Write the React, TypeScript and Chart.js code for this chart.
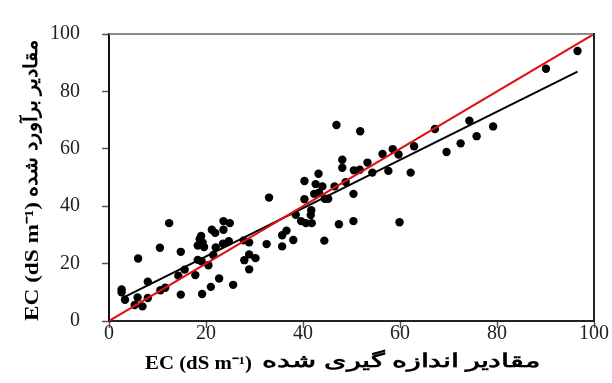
import React, { useEffect, useRef } from "react";
import { Chart, registerables } from "chart.js";

Chart.register(...registerables);

// Measured EC (x) and estimated EC (y), dS m-1
const measured = [
  2.6, 2.6, 3.3, 5.9, 5.3, 6.9, 8.0, 8.0, 6.0, 10.5, 12.4, 10.6, 11.6, 14.8, 14.8, 14.3,
  15.6, 17.8, 18.3, 19.2, 19.0, 18.7, 19.3, 18.3, 19.6, 21.2, 21.9, 22.0, 21.5, 19.1,
  20.5, 21.0, 22.7, 23.6, 24.9, 23.6, 23.5, 24.7, 25.6, 27.8, 28.9, 28.9, 27.9, 30.2,
  28.9, 32.5, 33.0, 35.7, 35.7, 36.6, 38.0, 38.5, 39.6, 40.6, 41.7, 41.6, 41.8, 44.4,
  47.4, 50.4, 59.9, 40.3, 40.3, 42.3, 43.3, 44.5, 45.2, 42.6, 44.0, 46.5, 48.8, 43.2,
  48.1, 48.1, 50.5, 51.7, 50.4, 53.3, 54.3, 57.6, 62.2, 56.4, 58.5, 59.7, 62.9, 46.9,
  51.8, 67.2, 69.6, 72.5, 74.3, 75.8, 79.2, 90.1, 96.6,
];
const estimated = [
  11.0, 10.0, 7.4, 8.2, 5.6, 5.1, 8.0, 13.7, 21.8, 25.5, 34.1, 10.7, 11.6, 24.1, 9.2, 15.8,
  17.9, 16.0, 21.3, 9.4, 29.6, 28.5, 27.4, 26.3, 25.8, 31.8, 30.7, 25.6, 23.0, 20.8,
  19.4, 11.9, 14.8, 34.8, 34.1, 31.8, 26.9, 27.8, 12.6, 28.1, 27.4, 23.2, 21.2, 21.9,
  18.0, 26.8, 43.0, 26.0, 29.9, 31.5, 28.2, 37.0, 34.8, 34.1, 38.6, 36.9, 34.1, 28.0,
  33.7, 34.8, 34.4, 42.4, 48.8, 44.3, 44.7, 42.6, 42.6, 47.7, 46.9, 46.9, 48.4, 51.3,
  56.2, 53.4, 52.5, 52.7, 44.3, 55.2, 51.7, 52.3, 51.7, 58.2, 59.9, 58.0, 60.9, 68.3,
  66.1, 66.9, 58.9, 61.9, 69.8, 64.4, 67.8, 87.9, 94.1,
];

// Regression line end points and the 1:1 line
const fitX = [2.6, 96.6];
const fitY = [7.9, 86.9];
const oneToOneX = [0, 100];
const oneToOneY = [0, 100];

const axisTicks = [0, 20, 40, 60, 80, 100];

const unitText = "EC (dS m\u207B\u00B9)";
const xTitleFa = "مقادیر اندازه گیری شده";
const yTitleFa = "مقادیر برآورد شده";

const SERIF = "'Liberation Serif', 'Times New Roman', serif";

function drawFit(ctx: CanvasRenderingContext2D, text: string, left: number, width: number, y: number, font: string) {
  ctx.save();
  ctx.font = font;
  ctx.textAlign = "left";
  ctx.textBaseline = "middle";
  ctx.direction = "ltr";
  const w = ctx.measureText(text).width;
  ctx.translate(left, y);
  ctx.scale(width / w, 1);
  ctx.fillText(text, 0, 0);
  ctx.restore();
}

export default function App() {
  const ref = useRef<HTMLCanvasElement | null>(null);

  useEffect(() => {
    if (!ref.current) return;
    const framePlugin = {
      id: "frame",
      afterDraw(chart: any) {
        const { ctx, chartArea } = chart;
        const { left, right, top, bottom } = chartArea;
        ctx.save();
        ctx.lineWidth = 2;
        ctx.strokeStyle = "#8a8a8a";
        ctx.beginPath();
        ctx.moveTo(left, top);
        ctx.lineTo(right, top);
        ctx.stroke();
        ctx.strokeStyle = "#222";
        ctx.beginPath();
        ctx.moveTo(right, top - 1);
        ctx.lineTo(right, bottom);
        ctx.stroke();
        ctx.fillStyle = "#000";
        // x title
        drawFit(ctx, unitText, 145, 107, 364, `bold 18px ${SERIF}`);
        drawFit(ctx, xTitleFa, 262, 278, 362, `bold 19px ${SERIF}`);
        // y title (rotated, reads bottom to top)
        ctx.translate(33, 321);
        ctx.rotate(-Math.PI / 2);
        drawFit(ctx, unitText, 0, 119, 0, `bold 19px ${SERIF}`);
        drawFit(ctx, yTitleFa, 124, 157, -1, `bold 19px ${SERIF}`);
        ctx.restore();
      },
    };

    const chart = new Chart(ref.current, {
      type: "scatter",
      data: {
        datasets: [
          {
            type: "line",
            data: oneToOneX.map((x, i) => ({ x, y: oneToOneY[i] })),
            borderColor: "#e01010",
            borderWidth: 2,
            pointRadius: 0,
            order: 0,
          } as any,
          {
            type: "line",
            data: fitX.map((x, i) => ({ x, y: fitY[i] })),
            borderColor: "#000",
            borderWidth: 2,
            pointRadius: 0,
            order: 1,
          } as any,
          {
            data: measured.map((x, i) => ({ x, y: estimated[i] })),
            backgroundColor: "#000",
            borderColor: "#000",
            pointRadius: 4.2,
            borderWidth: 0,
            order: 2,
          },
        ],
      },
      options: {
        responsive: false,
        animation: false,
        events: [],
        layout: { padding: { top: 19, right: 18, left: 0, bottom: 0 } },
        plugins: { legend: { display: false }, tooltip: { enabled: false } },
        scales: {
          x: {
            type: "linear",
            min: 0,
            max: 100,
            afterFit: (s: any) => { s.height = 62; },
            afterBuildTicks: (s: any) => { s.ticks = axisTicks.map((v) => ({ value: v })); },
            ticks: {
              color: "#222",
              font: { family: SERIF, size: 20 },
              padding: -6,
              maxRotation: 0,
            },
            grid: { drawOnChartArea: false, tickLength: 7, color: "#555", tickWidth: 1.5 },
            border: { display: true, color: "#222", width: 2 },
          },
          y: {
            type: "linear",
            min: 0,
            max: 100,
            afterFit: (s: any) => { s.width = 109; },
            afterBuildTicks: (s: any) => { s.ticks = axisTicks.map((v) => ({ value: v })); },
            ticks: {
              color: "#222",
              font: { family: SERIF, size: 20 },
              padding: 22,
            },
            grid: { drawOnChartArea: false, tickLength: 7, color: "#555", tickWidth: 1.5 },
            border: { display: true, color: "#111", width: 2 },
          },
        },
      },
      plugins: [framePlugin],
    });
    return () => chart.destroy();
  }, []);

  return (
    <div style={{ position: "fixed", left: 0, top: 0, width: 612, height: 383, background: "#fff" }}>
      <canvas ref={ref} width={612} height={383} style={{ display: "block" }} />
    </div>
  );
}
